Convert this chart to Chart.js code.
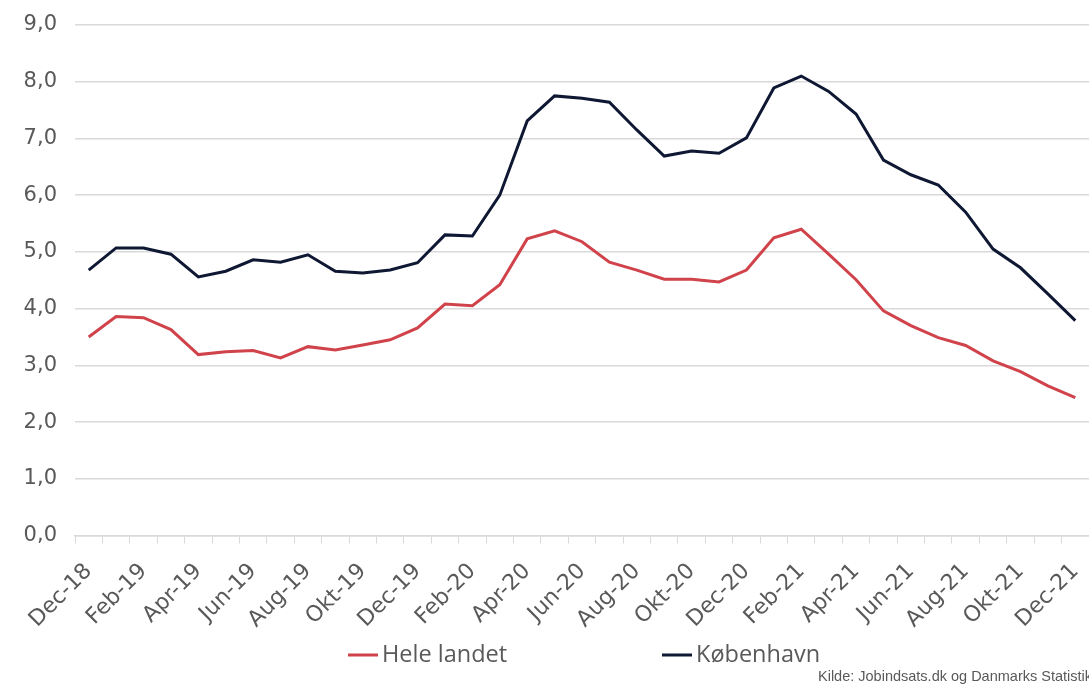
<!DOCTYPE html>
<html>
<head>
<meta charset="utf-8">
<script src="https://cdn.jsdelivr.net/npm/chart.js@4/dist/chart.umd.min.js"></script>
<style>
  body { margin: 0; background: #fff; }
  #wrap { width: 1089px; height: 684px; }
</style>
</head>
<body>
<div id="wrap"><canvas id="myChart" width="1089" height="684"></canvas></div>
<script>
const months = ["Dec-18","Jan-19","Feb-19","Mar-19","Apr-19","Maj-19","Jun-19","Jul-19","Aug-19","Sep-19","Okt-19","Nov-19",
  "Dec-19","Jan-20","Feb-20","Mar-20","Apr-20","Maj-20","Jun-20","Jul-20","Aug-20","Sep-20","Okt-20","Nov-20",
  "Dec-20","Jan-21","Feb-21","Mar-21","Apr-21","Maj-21","Jun-21","Jul-21","Aug-21","Sep-21","Okt-21","Nov-21","Dec-21"];

const heleLandet = [3.50, 3.86, 3.84, 3.63, 3.19, 3.24, 3.26, 3.13, 3.33, 3.27, 3.36, 3.45,
  3.66, 4.08, 4.05, 4.42, 5.23, 5.37, 5.18, 4.82, 4.68, 4.52, 4.52, 4.47,
  4.68, 5.25, 5.40, 4.96, 4.51, 3.96, 3.70, 3.49, 3.35, 3.08, 2.89, 2.64, 2.43];

const koebenhavn = [4.68, 5.07, 5.07, 4.96, 4.56, 4.66, 4.86, 4.82, 4.95, 4.66, 4.63, 4.68,
  4.81, 5.30, 5.28, 6.00, 7.31, 7.75, 7.71, 7.64, 7.15, 6.69, 6.78, 6.74,
  7.01, 7.89, 8.10, 7.83, 7.43, 6.62, 6.36, 6.18, 5.70, 5.05, 4.72, 4.26, 3.79];

const sourceText = "Kilde: Jobindsats.dk og Danmarks Statistik";

const grey = "#595959";
const axisFont = "'DejaVu Sans', sans-serif";

// legend and source note, drawn by hand so the spacing matches
const extras = {
  id: "extras",
  afterDraw(chart) {
    const c = chart.ctx;
    c.save();
    const legendX = [348, 662];
    const legendY = 655;
    chart.data.datasets.forEach((ds, i) => {
      const x = legendX[i];
      c.strokeStyle = ds.borderColor;
      c.lineWidth = 3;
      c.beginPath();
      c.moveTo(x, legendY);
      c.lineTo(x + 30, legendY);
      c.stroke();
      c.font = "23.5px 'Open Sans', sans-serif";
      c.fillStyle = grey;
      c.textBaseline = "middle";
      c.fillText(ds.label, x + 34, legendY);
    });
    c.font = "14.5px 'Liberation Sans', Arial, sans-serif";
    c.textBaseline = "alphabetic";
    c.fillText(sourceText, 818, 681);
    c.restore();
  }
};

const ctx = document.getElementById("myChart").getContext("2d");
let myChart = new Chart(ctx, {
  type: "line",
  data: {
    labels: months,
    datasets: [{
      label: "Hele landet",
      data: heleLandet,
      borderColor: "#d0434b",
      borderWidth: 3,
      pointRadius: 0,
      tension: 0,
    }, {
      label: "København",
      data: koebenhavn,
      borderColor: "#0e1833",
      borderWidth: 3,
      pointRadius: 0,
      tension: 0,
    }],
  },
  options: {
    responsive: false,
    animation: false,
    layout: { padding: { top: 0, right: 0, left: 0, bottom: 36 } },
    plugins: {
      tooltip: { enabled: false },
      legend: { display: false },
    },
    scales: {
      y: {
        min: 0,
        max: 9,
        afterFit(scale) { scale.width = 75; scale.paddingTop = 25; scale.paddingBottom = 0; },
        grid: {
          color: "#d9d9d9",
          lineWidth: 1.5,
          drawTicks: false,
        },
        border: { display: false },
        ticks: {
          stepSize: 1,
          padding: 18,
          color: grey,
          font: { size: 21, family: axisFont },
          callback: (v) => v.toFixed(1).replace(".", ","),
        },
      },
      x: {
        offset: true,
        afterFit(scale) { scale.paddingLeft = 0; scale.paddingRight = 0; },
        grid: {
          offset: true,
          drawOnChartArea: false,
          color: "#d9d9d9",
          tickLength: 8,
        },
        border: { display: true, color: "#d9d9d9", width: 1.5 },
        ticks: {
          autoSkip: false,
          minRotation: 45,
          maxRotation: 45,
          padding: 15,
          color: grey,
          font: { size: 22, family: axisFont },
          callback: function (v, i) { return i % 2 === 0 ? this.getLabelForValue(v) : ""; },
        },
      },
    },
  },
  plugins: [extras],
});
</script>
</body>
</html>
